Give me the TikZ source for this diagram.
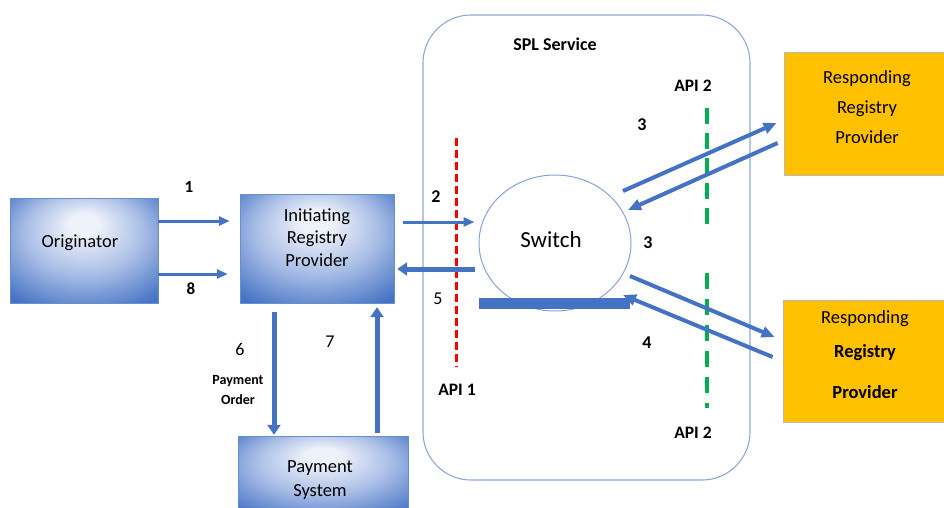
\documentclass[tikz,border=0pt]{standalone}
\usepackage{fontspec}
\setmainfont{Carlito}
\usetikzlibrary{arrows.meta,shapes.geometric,calc}
\definecolor{ofblue}{HTML}{4472C4}
\definecolor{lightbl}{HTML}{EEF2FA}
\definecolor{midbl}{HTML}{A8BDE6}
\definecolor{gold}{HTML}{FFC000}
\definecolor{splline}{HTML}{8EA7DA}
\definecolor{apired}{HTML}{FF0000}
\definecolor{apigreen}{HTML}{00B050}
\pgfdeclareradialshading{boxglow}{\pgfpoint{0bp}{14bp}}{color(0bp)=(lightbl); color(5bp)=(lightbl); color(20bp)=(midbl); color(36bp)=(ofblue); color(50bp)=(ofblue)}
\tikzset{
  bluebox/.style={rectangle, shade, shading=boxglow, draw=ofblue!80, line width=0.4pt, inner sep=0pt},
  goldbox/.style={rectangle, fill=gold, draw=gray!55, line width=0.8pt, inner sep=0pt},
  boxtext/.style={font=\fontsize{18.5}{22.5}\selectfont, align=center, text=black},
  numlab/.style={font=\fontsize{18}{20}\selectfont\bfseries, text=black, inner sep=0pt},
  numlabr/.style={font=\fontsize{18}{20}\selectfont, text=black, inner sep=0pt},
  apilab/.style={font=\fontsize{17.5}{20}\selectfont\bfseries, text=black, inner sep=0pt},
  arrT/.style={draw=ofblue, line width=3pt, -{Triangle[length=11pt,width=9pt]}},
  arrM/.style={draw=ofblue, line width=4pt, -{Triangle[length=13pt,width=11pt]}},
  arrH/.style={draw=ofblue, line width=5pt, -{Triangle[length=10pt,width=13pt]}},
}
\begin{document}
\begin{tikzpicture}[x=1pt,y=-1pt]
\useasboundingbox (0,0) rectangle (944,508);
\clip (0,0) rectangle (944,508);

% SPL service container
\node[draw=splline, line width=1.1pt, rounded corners=48pt, minimum width=327pt, minimum height=465pt, inner sep=0pt] (spl) at (586.5,247.5) {};
\node[apilab, font=\fontsize{18}{20}\selectfont\bfseries] (spltitle) at (555,44) {SPL Service};

% boxes
\node[bluebox, minimum width=148pt, minimum height=105pt,
  label={[boxtext, yshift=7.5pt, xshift=-4pt]center:Originator}] (orig) at (84,250.5) {};
\node[bluebox, minimum width=154pt, minimum height=109pt,
  label={[boxtext, yshift=11pt]center:Initiating\\Registry\\Provider}] (init) at (317,248.5) {};
\node[bluebox, minimum width=170pt, minimum height=80pt,
  label={[boxtext, font=\fontsize{18.5}{24}\selectfont, yshift=-4pt, xshift=-3pt]center:Payment\\System}] (pay) at (323,476) {};
\node[goldbox, minimum width=166pt, minimum height=123pt,
  label={[boxtext, font=\fontsize{18.5}{30}\selectfont, yshift=6pt]center:Responding\\Registry\\Provider}] (resp1) at (867,113.5) {};
\node[goldbox, minimum width=167pt, minimum height=122pt,
  label={[boxtext, xshift=-1.5pt, yshift=6pt]center:Responding\\[11.5pt]\textbf{Registry}\\[18.5pt]\textbf{Provider}}] (resp2) at (866.5,361) {};

% switch
\node[ellipse, draw=splline!90!ofblue, line width=1pt, minimum width=152pt, minimum height=136pt, inner sep=0pt,
  label={[font=\fontsize{23}{25}\selectfont, text=black, xshift=-4pt, yshift=3pt]center:Switch}] (sw) at (555,243) {};
\node[rectangle, fill=ofblue, minimum width=151pt, minimum height=11pt, inner sep=0pt] (bar) at (554.5,303.5) {};

% API lines
\draw[apired, line width=3pt, dash pattern=on 8pt off 4pt] (456,138) -- (456,367);
\draw[apigreen, line width=4pt, dash pattern=on 16pt off 9pt] (707,108) -- (707,225);
\draw[apigreen, line width=4pt, dash pattern=on 16pt off 10pt] (707,273) -- (707,408);

% arrows
\draw[arrT, shorten >=10pt] (orig.east |- 0,221) -- (init.west |- 0,221);
\draw[arrT, shorten >=12pt] (orig.east |- 0,274) -- (init.west |- 0,274);
\draw[arrT, shorten <=9pt, shorten >=4pt] (init.east |- 0,222) -- (sw.west |- 0,222);
\draw[arrH, shorten <=4pt, shorten >=3pt] (sw.west |- 0,269) -- (init.east |- 0,269);
\draw[arrH, shorten <=9pt, shorten >=1pt] (init.south -| 274,0) -- (pay.north -| 274,0);
\draw[arrH, shorten <=3pt, shorten >=4pt] (pay.north -| 377,0) -- (init.south -| 377,0);

\draw[arrM] ($(sw.center)+(68,-52)$) -- ($(resp1.west)+(-7,9.5)$);
\draw[arrM] ($(resp1.west)+(-6,29.5)$) -- ($(sw.center)+(73,-33)$);
\draw[arrM] ($(sw.center)+(75,33)$) -- ($(resp2.west)+(-8,-24)$);
\draw[arrM] ($(resp2.west)+(-10,-4)$) -- ($(sw.center)+(68,52)$);

% labels
\node[numlab, font=\fontsize{17}{18}\selectfont\bfseries] (l1) at (189,187) {1};
\node[numlab, font=\fontsize{17}{18}\selectfont\bfseries] (l8) at (191,289) {8};
\node[numlab] (l2) at (436,197) {2};
\node[numlabr] (l5) at (438,299) {5};
\node[numlab] (l3a) at (642,125) {3};
\node[numlab] (l3b) at (648,243) {3};
\node[numlab] (l4) at (647,343) {4};
\node[numlabr] (l6) at (240,349) {6};
\node[numlabr] (l7) at (330,342) {7};
\node[font=\fontsize{14}{20}\selectfont\bfseries, align=center, inner sep=0pt] (po) at (238,390) {Payment\\Order};
\node[apilab] (api1) at (457,390) {API 1};
\node[apilab] (api2a) at (693,86) {API 2};
\node[apilab] (api2b) at (693,433) {API 2};
\end{tikzpicture}
\end{document}
